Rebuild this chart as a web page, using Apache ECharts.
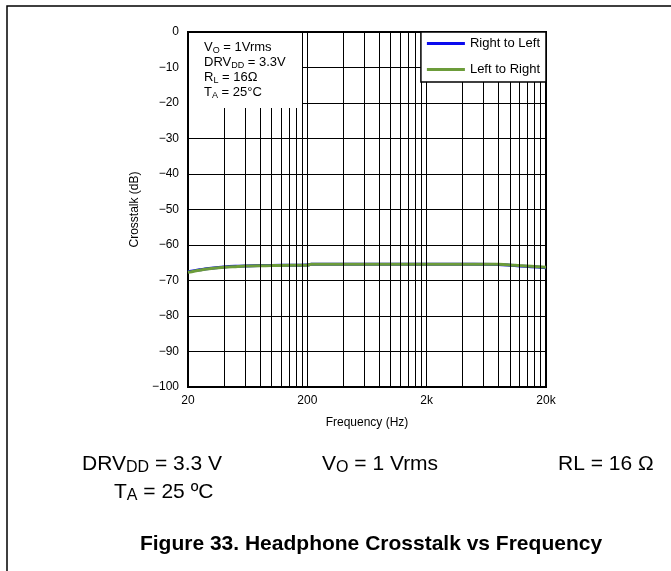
<!DOCTYPE html>
<html>
<head>
<meta charset="utf-8">
<script src="https://cdn.jsdelivr.net/npm/echarts@6/dist/echarts.min.js"></script>
<style>
  html, body { margin: 0; padding: 0; background: #fff; }
  #chart { width: 671px; height: 571px; }
</style>
</head>
<body>
<div id="chart"></div>
<script>
// values (Hz, dB)
const freqs = [20, 25, 30, 40, 50, 60, 80, 100, 150, 200, 215, 300, 500, 1000, 2000, 5000, 8000, 10000, 12000, 15000, 20000]
const rightToLeft = [-67.5, -67.0, -66.6, -66.2, -66.0, -65.9, -65.8, -65.75, -65.7, -65.65, -65.45, -65.45, -65.4, -65.4, -65.4, -65.4, -65.5, -65.7, -65.9, -66.1, -66.4]
const leftToRight = [-67.7, -67.1, -66.7, -66.3, -66.1, -65.95, -65.85, -65.8, -65.7, -65.7, -65.45, -65.45, -65.4, -65.4, -65.4, -65.4, -65.45, -65.6, -65.8, -66.0, -66.3]
const freqTicks = [20, 200, 2000, 20000]
const gridFreqs = [40, 60, 80, 100, 120, 140, 160, 180, 200,
  400, 600, 800, 1000, 1200, 1400, 1600, 1800, 2000,
  4000, 6000, 8000, 10000, 12000, 14000, 16000, 18000]

const FONT = '"Liberation Sans", Arial, sans-serif'

const chart = echarts.init(document.getElementById('chart'))

function pairs (vals) {
  return freqs.map((f, i) => [f, vals[i]])
}

// rich styles: normal text + subscript pushed down with top padding
function richStyles (size, subSize, lineHeight, drop) {
  return {
    n: { fontSize: size, fontFamily: FONT, fill: '#000', lineHeight: lineHeight, verticalAlign: 'middle' },
    s: { fontSize: subSize, fontFamily: FONT, fill: '#000', lineHeight: lineHeight, verticalAlign: 'top', padding: [drop, 0, 0, 0] }
  }
}

const option = {
  backgroundColor: '#fff',
  animation: false,
  textStyle: { fontFamily: FONT, color: '#000' },
  grid: {
    left: 188,
    right: 125,
    top: 32,
    bottom: 184,
    show: true,
    borderColor: '#000',
    borderWidth: 2
  },
  legend: {
    z: 20,
    right: 125,
    top: 32,
    orient: 'vertical',
    align: 'left',
    icon: 'rect',
    itemWidth: 38,
    itemHeight: 3,
    itemGap: 13,
    padding: [5, 6, 6, 6],
    backgroundColor: '#fff',
    borderColor: '#000',
    borderWidth: 1.5,
    textStyle: { fontSize: 13, color: '#000', fontFamily: FONT },
    data: ['Right to Left', 'Left to Right']
  },
  xAxis: {
    type: 'log',
    logBase: 10,
    min: 20,
    max: 20000,
    name: 'Frequency (Hz)',
    nameLocation: 'middle',
    nameGap: 30,
    nameTextStyle: { fontSize: 12, color: '#000', fontFamily: FONT },
    axisLine: { lineStyle: { color: '#000', width: 2 } },
    axisTick: { show: false },
    splitLine: { show: false },
    axisLabel: {
      customValues: freqTicks,
      fontSize: 12,
      color: '#000',
      margin: 8,
      formatter: v => (v >= 1000 ? (v / 1000) + 'k' : String(v))
    }
  },
  yAxis: {
    type: 'value',
    min: -100,
    max: 0,
    interval: 10,
    name: 'Crosstalk (dB)',
    nameLocation: 'middle',
    nameGap: 42,
    nameTextStyle: { fontSize: 12, color: '#000', fontFamily: FONT },
    axisLine: { show: true, lineStyle: { color: '#000', width: 2 } },
    axisTick: { show: false },
    splitLine: { lineStyle: { color: '#000', width: 1 } },
    axisLabel: {
      fontSize: 12,
      color: '#000',
      margin: 9,
      formatter: v => String(v).replace('-', '\u2212')
    }
  },
  series: [
    {
      name: 'grid',
      type: 'line',
      data: [],
      z: 1,
      silent: true,
      markLine: {
        silent: true,
        symbol: 'none',
        label: { show: false },
        lineStyle: { color: '#000', width: 1, type: 'solid' },
        data: gridFreqs.map(f => ({ xAxis: f }))
      }
    },
    {
      name: 'Right to Left',
      type: 'line',
      data: pairs(rightToLeft),
      showSymbol: false,
      smooth: 0.3,
      color: '#0a0aee',
      lineStyle: { width: 3, color: '#0a0aee' },
      z: 3
    },
    {
      name: 'Left to Right',
      type: 'line',
      data: pairs(leftToRight),
      showSymbol: false,
      smooth: 0.3,
      color: '#6c9c3a',
      lineStyle: { width: 3, color: '#6c9c3a' },
      z: 4
    }
  ],
  graphic: [
    {
      type: 'rect',
      z: -10,
      shape: { x: 7, y: 6, width: 700, height: 600 },
      style: { fill: 'none', stroke: '#000', lineWidth: 1.5 }
    },
    {
      type: 'rect',
      z: 10,
      shape: { x: 189, y: 33, width: 113, height: 75 },
      style: { fill: '#fff' }
    },
    {
      type: 'text',
      z: 11,
      style: {
        x: 204,
        y: 40,
        textVerticalAlign: 'top',
        text: '{n|V}{s|O}{n| = 1Vrms}\n{n|DRV}{s|DD}{n| = 3.3V}\n{n|R}{s|L}{n| = 16\u03a9}\n{n|T}{s|A}{n| = 25°C}',
        rich: richStyles(13, 9, 15, 6)
      }
    },
    {
      type: 'text',
      z: 11,
      style: {
        x: 82,
        y: 464,
        textVerticalAlign: 'middle',
        text: '{n|DRV}{s|DD}{n| = 3.3 V}',
        rich: richStyles(21, 16, 24, 8)
      }
    },
    {
      type: 'text',
      z: 11,
      style: {
        x: 322,
        y: 464,
        textVerticalAlign: 'middle',
        text: '{n|V}{s|O}{n| = 1 Vrms}',
        rich: richStyles(21, 16, 24, 8)
      }
    },
    {
      type: 'text',
      z: 11,
      style: {
        x: 558,
        y: 464,
        textVerticalAlign: 'middle',
        text: 'RL = 16 \u03a9',
        font: '21px ' + FONT,
        fill: '#000'
      }
    },
    {
      type: 'text',
      z: 11,
      style: {
        x: 114,
        y: 492,
        textVerticalAlign: 'middle',
        text: '{n|T}{s|A}{n| = 25 ºC}',
        rich: richStyles(21, 16, 24, 8)
      }
    },
    {
      type: 'text',
      z: 11,
      style: {
        x: 371,
        y: 544,
        textAlign: 'center',
        textVerticalAlign: 'middle',
        text: 'Figure 33. Headphone Crosstalk vs Frequency',
        font: 'bold 21px ' + FONT,
        fill: '#000'
      }
    }
  ]
}

chart.setOption(option)
</script>
</body>
</html>
